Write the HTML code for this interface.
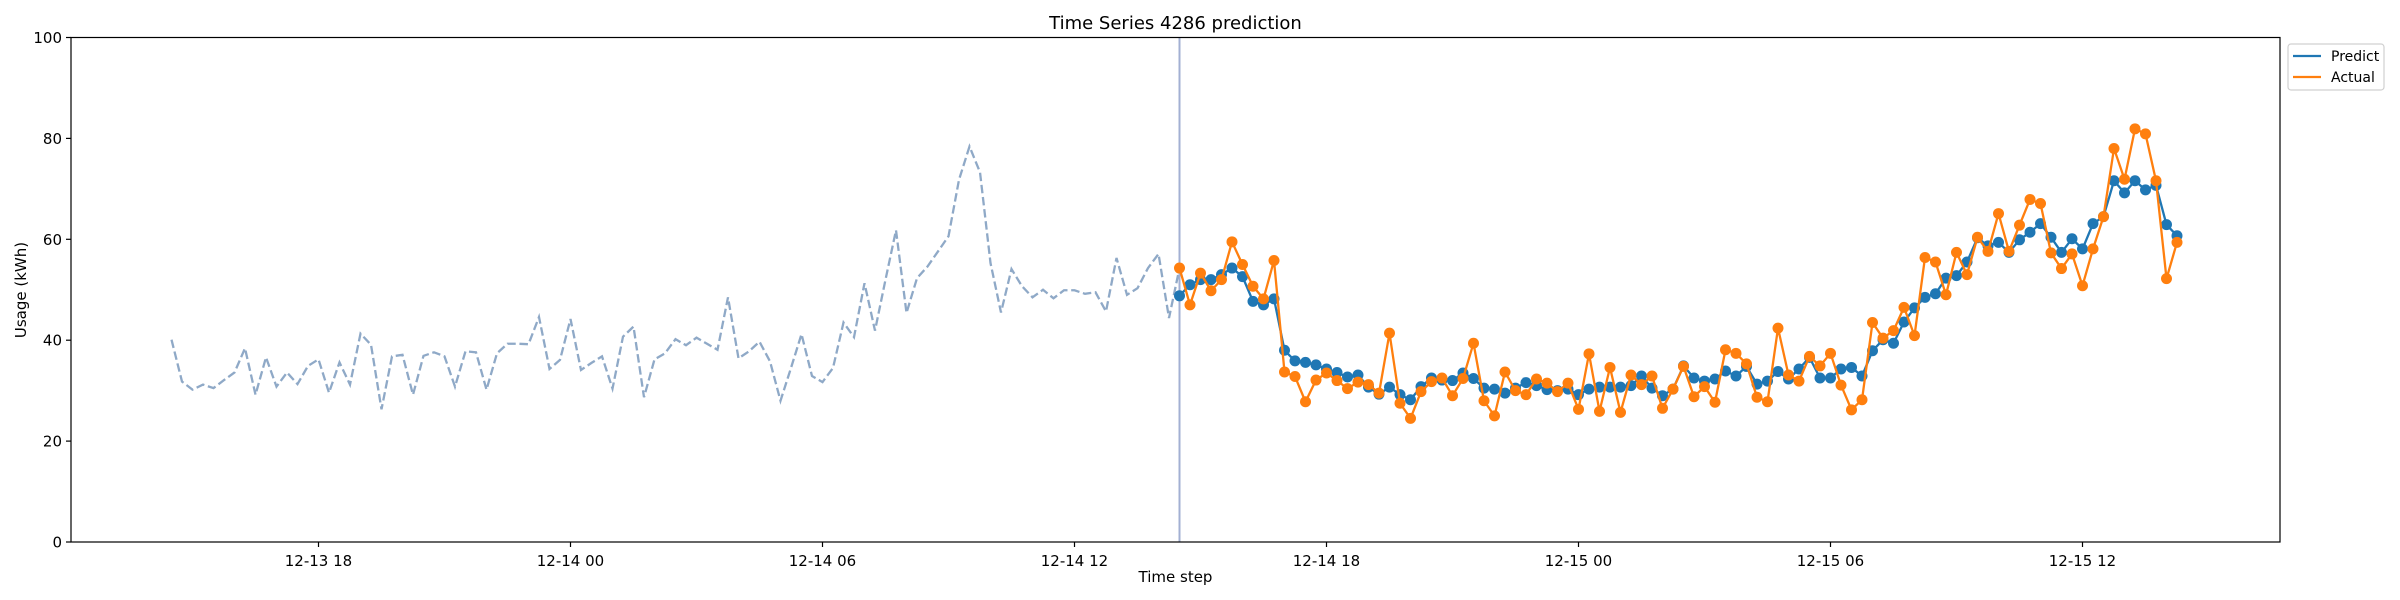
<!DOCTYPE html>
<html>
<head>
<meta charset="utf-8">
<style>
  html,body{margin:0;padding:0;background:#fff;}
  svg{display:block;font-family:"DejaVu Sans","Liberation Sans",sans-serif;}
</style>
</head>
<body>
<svg id="chart" width="2400" height="600" viewBox="0 0 2400 600" xmlns="http://www.w3.org/2000/svg">
  <rect x="0" y="0" width="2400" height="600" fill="#ffffff"/>
  <text x="1175.5" y="29" font-size="18" text-anchor="middle" fill="#000">Time Series 4286 prediction</text>
  <g id="plot"></g>
  <text x="1175.5" y="582" font-size="15" text-anchor="middle" fill="#000">Time step</text>
  <text x="26" y="290" font-size="15" text-anchor="middle" fill="#000" transform="rotate(-90 26 290)">Usage (kWh)</text>
  <g>
    <rect x="2288" y="44" width="96" height="46" rx="3" fill="#fff" stroke="#d0d0d0" stroke-width="1.2"/>
    <line x1="2293" y1="56" x2="2321" y2="56" stroke="#1f77b4" stroke-width="2.3"/>
    <text x="2331" y="61" font-size="14" fill="#000">Predict</text>
    <line x1="2293" y1="77" x2="2321" y2="77" stroke="#ff7f0e" stroke-width="2.3"/>
    <text x="2331" y="82" font-size="14" fill="#000">Actual</text>
  </g>
</svg>
<script>
const history = [40.1,31.8,30.2,31.2,30.5,32.1,33.6,38.4,29.2,36.6,30.8,33.6,31.3,34.9,36.2,29.6,35.6,31.2,41.3,39.1,26.3,36.8,37.1,29.2,36.9,37.6,36.8,30.8,37.8,37.6,30.2,37.4,39.3,39.3,39.2,44.6,34.3,36.1,44.2,34.1,35.5,36.8,30.4,40.7,42.7,28.7,36.2,37.4,40.2,39.0,40.5,39.3,38.1,48.5,36.4,37.8,39.7,35.8,28.0,34.5,41.2,32.9,31.7,34.5,43.5,40.6,51.3,41.9,52.0,61.8,45.4,52.3,54.6,57.6,60.6,71.8,78.4,73.3,55.3,45.5,54.1,50.7,48.5,50.0,48.3,49.9,49.9,49.2,49.5,45.7,56.3,49.0,50.3,54.3,57.1,44.4,54.3];
const predict = [48.8,51.0,52.0,52.0,53.0,54.3,52.6,47.7,47.0,48.2,38.0,35.9,35.6,35.1,34.3,33.6,32.7,33.1,30.7,29.3,30.7,29.2,28.2,30.8,32.5,32.1,32.0,33.5,32.4,30.5,30.3,29.5,
30.5,31.6,31.0,30.2,30.0,30.3,29.2,30.3,30.7,30.7,30.7,31.0,32.9,30.5,29.0,30.3,34.9,32.5,31.9,32.3,33.9,32.9,34.8,31.3,31.9,33.8,32.3,34.3,36.6,32.5,32.5,
34.3,34.6,32.9,37.9,40.1,39.4,43.6,46.4,48.5,49.2,52.3,52.8,55.5,60.3,58.7,59.4,57.4,59.9,61.4,63.1,60.4,57.4,60.1,58.1,63.1,64.5,71.6,69.2,71.6,69.8,70.7,62.9,60.7];
const actual = [54.3,47.0,53.3,49.8,52.0,59.5,55.0,50.7,48.2,55.8,33.7,32.8,27.8,32.1,33.5,32.0,30.4,31.7,31.2,29.5,41.4,27.5,24.5,29.8,31.8,32.5,29.0,32.4,39.4,28.0,25.0,33.7,
30.0,29.2,32.3,31.5,29.8,31.5,26.3,37.3,25.9,34.6,25.7,33.1,31.2,32.9,26.5,30.3,34.8,28.8,30.8,27.7,38.1,37.4,35.3,28.7,27.8,42.4,33.1,31.9,36.8,34.9,37.4,
31.1,26.2,28.2,43.5,40.4,41.9,46.5,40.9,56.4,55.5,49.0,57.4,53.0,60.4,57.6,65.1,57.6,62.8,67.9,67.1,57.3,54.2,57.1,50.8,58.1,64.5,78.0,71.9,81.9,80.9,71.6,52.2,59.4];
const yTicks = [0,20,40,60,80,100];
const xTickLabels = ["12-13 18","12-14 00","12-14 06","12-14 12","12-14 18","12-15 00","12-15 06","12-15 12"];
const xTickIndex = [14,38,62,86,110,134,158,182];

const NS = "http://www.w3.org/2000/svg";
const L = 71, R = 2280, T = 37.5, B = 542;
const forecastStart = history.length - 1;
function xPos(i){ return 171.5 + 10.5 * i; }
function yPos(v){ return B - (v / 100) * (B - T); }
const plot = document.getElementById('plot');
function mk(tag, attrs){
  const e = document.createElementNS(NS, tag);
  for (const k in attrs) e.setAttribute(k, attrs[k]);
  plot.appendChild(e);
  return e;
}
yTicks.forEach(v => {
  const y = yPos(v);
  mk('line', {x1: L-5, y1: y, x2: L, y2: y, stroke: '#000', 'stroke-width': 1.2});
  const t = mk('text', {x: L-9, y: y+5.5, 'font-size': 15, 'text-anchor': 'end', fill: '#000'});
  t.textContent = v;
  
  
});
xTickLabels.forEach((lab, j) => {
  const x = xPos(xTickIndex[j]);
  mk('line', {x1: x, y1: B, x2: x, y2: B+5, stroke: '#000', 'stroke-width': 1.2});
  const t = mk('text', {x: x, y: B+24, 'font-size': 15, 'text-anchor': 'middle', fill: '#000'});
  t.textContent = lab;
  
  
});
const hp = mk('polyline', {points: history.map((v,i)=>xPos(i)+','+yPos(v)).join(' '), fill: 'none', stroke: '#8fa9c7', 'stroke-width': 2.3, 'stroke-dasharray': '8.5,3.7'});


const vl = mk('line', {x1: xPos(forecastStart), y1: T, x2: xPos(forecastStart), y2: B, stroke: '#a3b0d3', 'stroke-width': 2});


function series(vals, color, name){
  const pl = mk('polyline', {points: vals.map((v,k)=>xPos(forecastStart+k)+','+yPos(v)).join(' '), fill: 'none', stroke: color, 'stroke-width': 2.3, 'stroke-linejoin': 'round'});
  
  
  vals.forEach((v,k) => {
    const c = mk('circle', {cx: xPos(forecastStart+k), cy: yPos(v), r: 5.5, fill: color});
    
    
  });
}
series(predict, '#1f77b4', 'predict');
series(actual, '#ff7f0e', 'actual');
const fr = mk('rect', {x: L, y: T, width: R-L, height: B-T, fill: 'none', stroke: '#000', 'stroke-width': 1.2});


</script>
</body>
</html>
